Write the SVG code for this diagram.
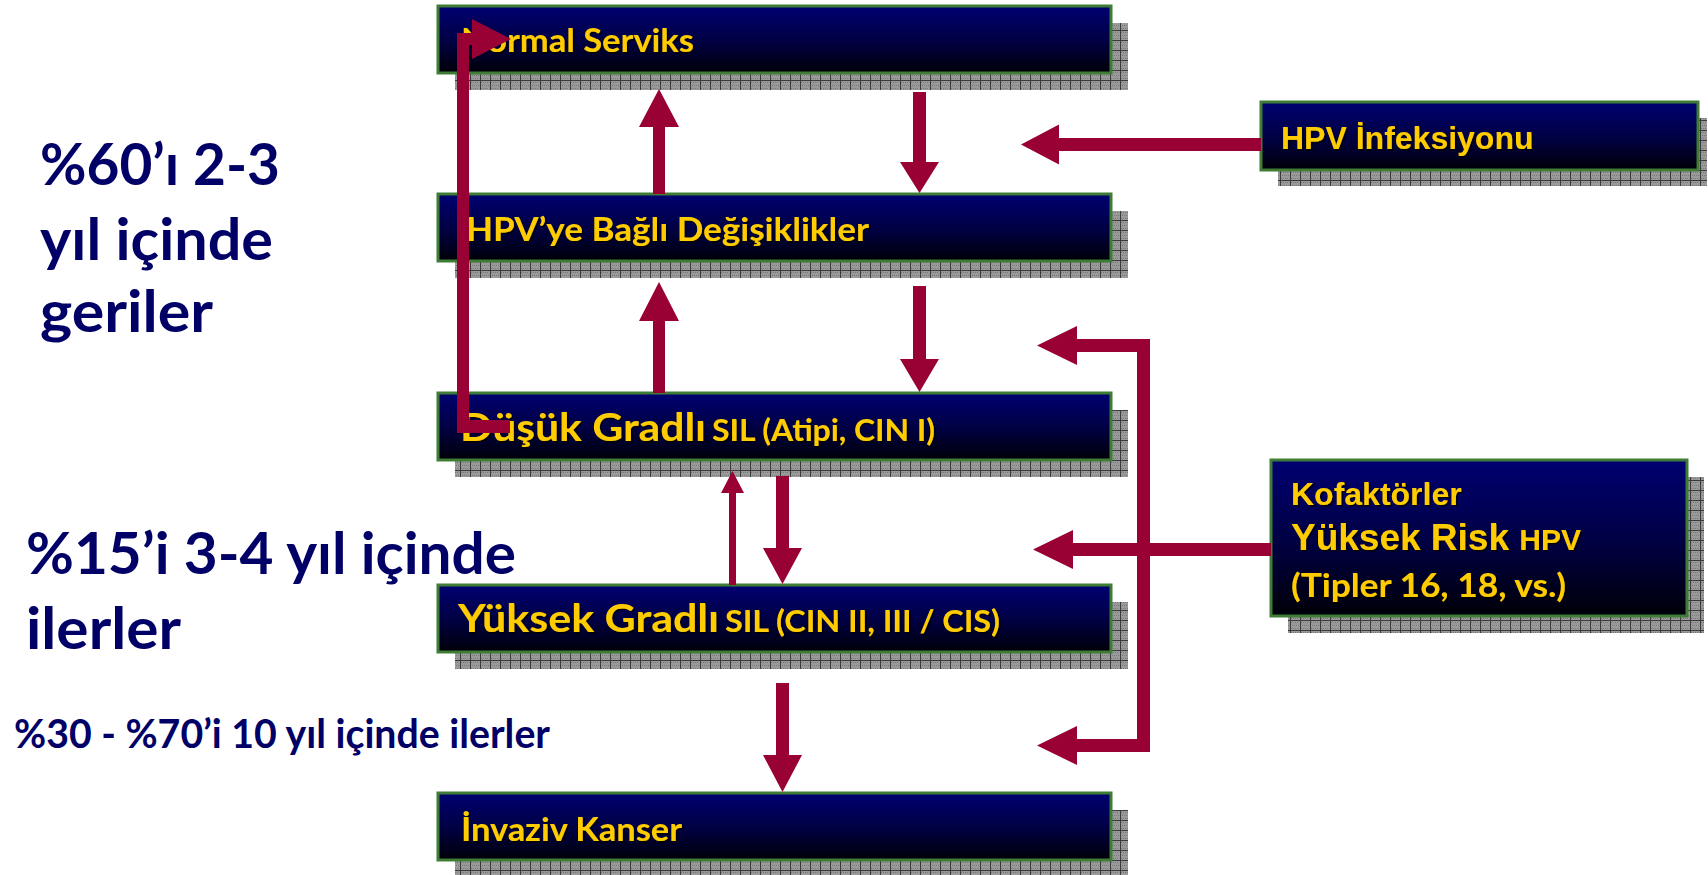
<svg xmlns="http://www.w3.org/2000/svg" width="1708" height="875" viewBox="0 0 1708 875">
<style>
.box{fill:url(#bg);stroke:#3f7d36;stroke-width:3}
.shd{fill:url(#chk)}
.bt{font-family:Lato,"Open Sans","Liberation Sans",sans-serif;font-weight:bold;fill:#ffcc00;filter:url(#ts)}
.tt{font-family:"Liberation Sans",Arial,sans-serif;font-weight:bold;fill:#ffcc00;filter:url(#ts)}
.lt{font-family:Lato,"Open Sans","Liberation Sans",sans-serif;font-weight:bold;fill:#000066}
.ar{fill:#990033}
</style>
<defs>
<linearGradient id="bg" x1="0" y1="0" x2="0" y2="1">
<stop offset="0" stop-color="#000072"/>
<stop offset="0.55" stop-color="#000040"/>
<stop offset="1" stop-color="#000008"/>
</linearGradient>
<pattern id="chk" width="10" height="10" patternUnits="userSpaceOnUse">
<rect width="10" height="10" fill="#9a9a9a"/>
<path d="M1 2h1v1h-1zM3 2h1v1h-1zM5 2h1v1h-1zM7 2h1v1h-1zM2 5h1v1h-1zM4 5h1v1h-1zM6 5h1v1h-1zM8 5h1v1h-1zM1 8h1v1h-1zM3 8h1v1h-1zM5 8h1v1h-1zM7 8h1v1h-1z" fill="#7a7a7a"/>
<path d="M0 0.5H10M0.5 0V10" stroke="#3a3a3a" stroke-width="1"/>
</pattern>
<filter id="ts" x="-5%" y="-20%" width="110%" height="140%">
<feDropShadow dx="1.5" dy="1.5" stdDeviation="0.4" flood-color="#000000" flood-opacity="0.9"/>
</filter>
</defs>
<rect width="1708" height="875" fill="#ffffff"/>

<g id="labels-left">
<text class="lt" x="40" y="185" font-size="57" textLength="240" lengthAdjust="spacingAndGlyphs">%60’ı 2-3</text>
<text class="lt" x="40" y="260" font-size="57" textLength="233" lengthAdjust="spacingAndGlyphs">yıl içinde</text>
<text class="lt" x="40" y="332" font-size="57" textLength="173" lengthAdjust="spacingAndGlyphs">geriler</text>
<text class="lt" x="26" y="574" font-size="57" textLength="490" lengthAdjust="spacingAndGlyphs">%15’i 3-4 yıl içinde</text>
<text class="lt" x="26" y="649" font-size="57" textLength="155" lengthAdjust="spacingAndGlyphs">ilerler</text>
<text class="lt" x="14" y="748" font-size="40" textLength="536" lengthAdjust="spacingAndGlyphs">%30 - %70’i 10 yıl içinde ilerler</text>
</g>

<g id="node-normal">
<rect class="shd" x="455" y="23" width="673" height="67"/>
<rect class="box" x="438" y="6" width="673" height="67"/>
<text class="bt" x="461" y="52" font-size="33" textLength="233" lengthAdjust="spacingAndGlyphs">Normal Serviks</text>
</g>
<g id="node-hpv-degisiklik">
<rect class="shd" x="455" y="211" width="673" height="67"/>
<rect class="box" x="438" y="194" width="673" height="67"/>
<text class="bt" x="466" y="241" font-size="33" textLength="403" lengthAdjust="spacingAndGlyphs">HPV’ye Bağlı Değişiklikler</text>
</g>
<g id="node-dusuk">
<rect class="shd" x="455" y="410" width="673" height="67"/>
<rect class="box" x="438" y="393" width="673" height="67"/>
<text class="bt" x="460" y="441" font-size="39" textLength="246" lengthAdjust="spacingAndGlyphs">Düşük Gradlı</text>
<text class="bt" x="712" y="441" font-size="31" textLength="223" lengthAdjust="spacingAndGlyphs">SIL (Atipi, CIN I)</text>
</g>
<g id="node-yuksek">
<rect class="shd" x="455" y="602" width="673" height="67"/>
<rect class="box" x="438" y="585" width="673" height="67"/>
<text class="bt" x="458" y="632" font-size="39" textLength="261" lengthAdjust="spacingAndGlyphs">Yüksek Gradlı</text>
<text class="bt" x="725" y="632" font-size="31" textLength="275" lengthAdjust="spacingAndGlyphs">SIL (CIN II, III / CIS)</text>
</g>
<g id="node-invaziv">
<rect class="shd" x="455" y="810" width="673" height="67"/>
<rect class="box" x="438" y="793" width="673" height="67"/>
<text class="bt" x="461" y="841" font-size="33" textLength="221" lengthAdjust="spacingAndGlyphs">İnvaziv Kanser</text>
</g>
<g id="node-hpv-infeksiyon">
<rect class="shd" x="1278" y="118" width="429" height="68"/>
<rect class="box" x="1261" y="102" width="437" height="68"/>
<text class="tt" x="1281" y="149" font-size="32">HPV İnfeksiyonu</text>
</g>
<g id="node-kofaktor">
<rect class="shd" x="1288" y="477" width="416" height="156"/>
<rect class="box" x="1271" y="460" width="416" height="156"/>
<text class="tt" x="1291" y="505" font-size="32">Kofaktörler</text>
<text class="tt" x="1291" y="550" font-size="37">Yüksek Risk <tspan font-size="30">HPV</tspan></text>
<text class="bt" x="1291" y="597" font-size="32" textLength="275" lengthAdjust="spacingAndGlyphs">(Tipler 16, 18, vs.)</text>
</g>

<g id="connectors">
<polygon class="ar" points="1261,138 1059,138 1059,124.5 1021,144.5 1059,164.5 1059,151 1261,151"/>
<polygon class="ar" points="653,194 653,127 639,127 659,89 679,127 665,127 665,194"/>
<polygon class="ar" points="913,92 926,92 926,162 939,162 919.5,193 900,162 913,162"/>
<polygon class="ar" points="653,393 653,321 639,321 659,282 679,321 665,321 665,393"/>
<polygon class="ar" points="913,286 926,286 926,359 939,359 919.5,392 900,359 913,359"/>
<polygon class="ar" points="729,585 729,493 721,493 732.5,471 744,493 736,493 736,585"/>
<polygon class="ar" points="776,476 789,476 789,548 802,548 782.5,584 763,548 776,548"/>
<polygon class="ar" points="776,683 789,683 789,755 802,755 782.5,792 763,755 776,755"/>
<polygon class="ar" points="510,420 510,433 457,433 457,33 472,33 472,19 511,39 472,59 472,45 469,45 469,420"/>
<polygon class="ar" points="1150,339 1150,752 1077,752 1077,765 1037,745.5 1077,726 1077,739 1137,739 1137,556 1073,556 1073,569 1033,549.5 1073,530 1073,543 1137,543 1137,352 1077,352 1077,365 1037,345.5 1077,326 1077,339"/>
<polygon class="ar" points="1150,543 1271,543 1271,556 1150,556"/>
</g>
</svg>
